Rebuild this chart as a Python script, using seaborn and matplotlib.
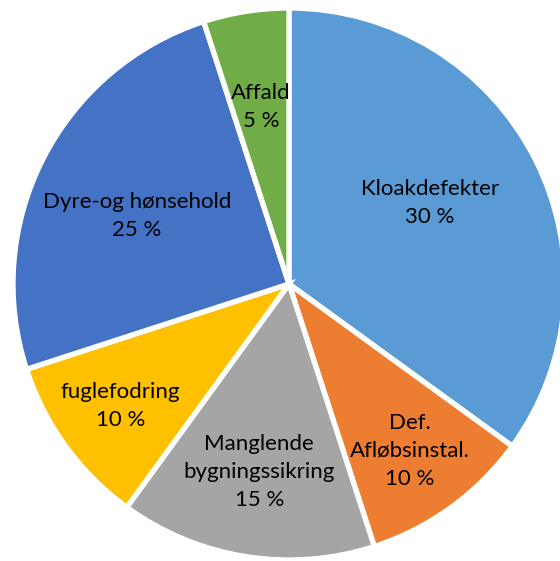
import numpy as np
import matplotlib
matplotlib.use("Agg")
import matplotlib.pyplot as plt
import seaborn as sns

categories = ["Kloakdefekter", "Def.\nAfløbsinstal.", "Manglende\nbygningssikring",
              "fuglefodring", "Dyre-og hønsehold", "Affald"]
values = [35, 10, 15, 10, 25, 5]
pct_labels = ["30 %", "10 %", "15 %", "10 %", "25 %", "5 %"]
colors = ["#5B9BD5", "#ED7D31", "#A5A5A5", "#FFC000", "#4472C4", "#70AD47"]
label_r = [0.59, 0.746, 0.69, 0.754, 0.603, 0.65]
label_dang = [3.0, 0.0, 0.0, 0.0, 2.9, 0.0]

sns.set_theme(style="white")
plt.rcParams['font.family'] = ['Lato', 'DejaVu Sans']

fig = plt.figure(figsize=(5.6, 5.61), dpi=100)
ax = fig.add_axes([0, 0, 1, 1])
R = 276.0
cx, cy_top = 289.0, 284.0
wedges, _ = ax.pie(values, colors=colors, startangle=90, counterclock=False,
                   radius=1.0, wedgeprops=dict(edgecolor="white", linewidth=3.8))
for w, cat, pct, r, da in zip(wedges, categories, pct_labels, label_r, label_dang):
    ang = np.deg2rad((w.theta1 + w.theta2) / 2 + da)
    ax.text(r * np.cos(ang), r * np.sin(ang), f"{cat}\n{pct}", ha="center", va="center",
            fontsize=16, color="black", linespacing=1.5)
ax.set_xlim(-cx / R, (560 - cx) / R)
ax.set_ylim(-(561 - cy_top) / R, cy_top / R)
ax.set_aspect("auto")
ax.axis("off")
fig.savefig("out.png", dpi=100)
